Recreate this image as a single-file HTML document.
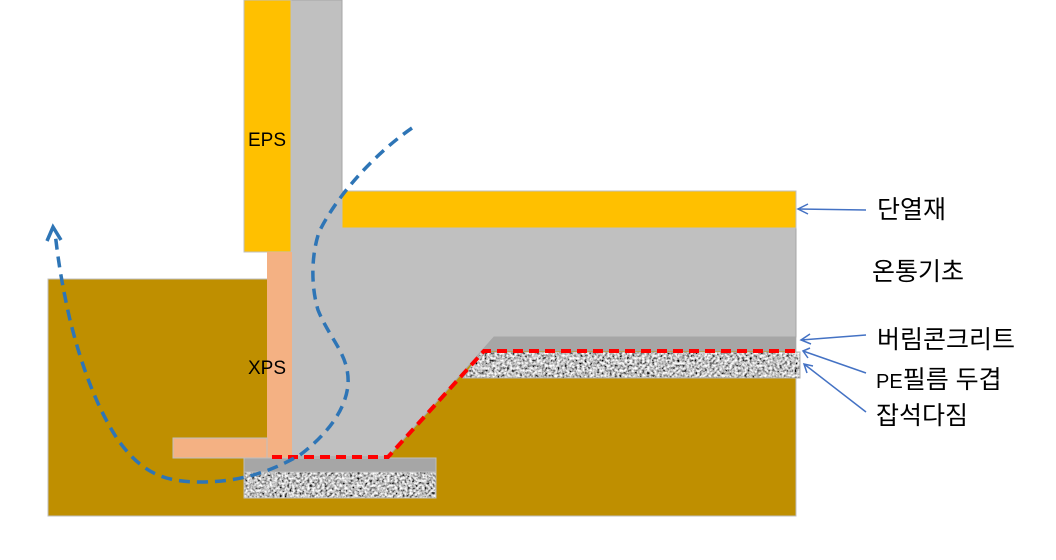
<!DOCTYPE html>
<html><head><meta charset="utf-8"><style>
html,body{margin:0;padding:0;background:#fff;}
svg{display:block;}
text{font-family:"Liberation Sans","Noto Sans CJK KR",sans-serif;}
</style></head><body>
<svg width="1056" height="560" viewBox="0 0 1056 560" xmlns="http://www.w3.org/2000/svg">
<defs>
<filter id="noise" x="0" y="0" width="100%" height="100%">
<feTurbulence type="fractalNoise" baseFrequency="0.4" numOctaves="2" seed="5" result="t"/>
<feColorMatrix in="t" type="matrix" values="2.0 0 0 0 -0.45  2.0 0 0 0 -0.45  2.0 0 0 0 -0.45  0 0 0 0 1" result="c"/>
<feComposite in="c" in2="SourceGraphic" operator="in"/>
</filter>
</defs>
<rect x="48" y="279" width="748" height="237" fill="#BF8F00" stroke="#bfbfbf" stroke-width="1"/>
<path d="M291,0 L342,0 L342,228 L796,228 L796,337 L494,337 L388,457 L291,457 Z" fill="#C0C0C0" stroke="#a6a6a6" stroke-width="1"/>
<path d="M494,337 L796,337 L796,351 L481,351 Z" fill="#A6A6A6"/>
<path d="M481,352 L800,352 L800,378 L463,378 Z" fill="#999" filter="url(#noise)"/>
<path d="M481,352 L800,352 L800,378 L463,378 Z" fill="none" stroke="#b0b0b0"/>
<rect x="342" y="191" width="454" height="37" fill="#FFC000" stroke="#bfbfbf"/>
<rect x="244" y="0" width="47" height="252" fill="#FFC000" stroke="#bfbfbf"/>
<rect x="267" y="252" width="25" height="206" fill="#F4B183"/>
<rect x="173" y="438" width="94" height="20" fill="#F4B183" stroke="#bfbfbf"/>
<rect x="244" y="458" width="192" height="14" fill="#A6A6A6" stroke="#bfbfbf"/>
<rect x="244" y="472" width="192" height="26" fill="#999" filter="url(#noise)"/>
<rect x="244" y="472" width="192" height="26" fill="none" stroke="#bfbfbf"/>
<path d="M272,457 L388,457 L484,351 L796,351" fill="none" stroke="#FF0000" stroke-width="4" stroke-dasharray="10,6"/>
<path d="M412,128 C380,150 340,190 319,232 C310,260 312,290 318,310 C330,340 350,355 348,385 C345,415 320,440 300,455 C270,472 240,482 200,482 C160,482 140,470 118,440 C95,405 80,360 70,320 C62,285 58,260 55,232" fill="none" stroke="#2E75B6" stroke-width="3.5" stroke-dasharray="11,7"/>
<path d="M47,241 L53,227 L61,240" fill="none" stroke="#2E75B6" stroke-width="3.5"/>
<text x="248" y="146" font-size="19">EPS</text>
<text x="248" y="374" font-size="19">XPS</text>
<g font-size="25" fill="#000">
<text x="877" y="218">단열재</text>
<text x="872" y="280">온통기초</text>
<text x="877" y="348">버림콘크리트</text>
<text x="876" y="388"><tspan font-size="20">PE</tspan>필름 두겹</text>
<text x="876" y="424">잡석다짐</text>
</g>
<g stroke="#4472C4" stroke-width="1.5" fill="none">
<path d="M866,210 L798,209"/><path d="M808,204 L798,209 L808,214"/>
<path d="M866,335 L801,340"/><path d="M810,334 L801,340 L811,344"/>
<path d="M866,373 L803,351"/><path d="M810,348 L803,351 L808,358"/>
<path d="M866,412 L804,364"/><path d="M807,373 L804,364 L813,366"/>
</g>
</svg>
</body></html>
